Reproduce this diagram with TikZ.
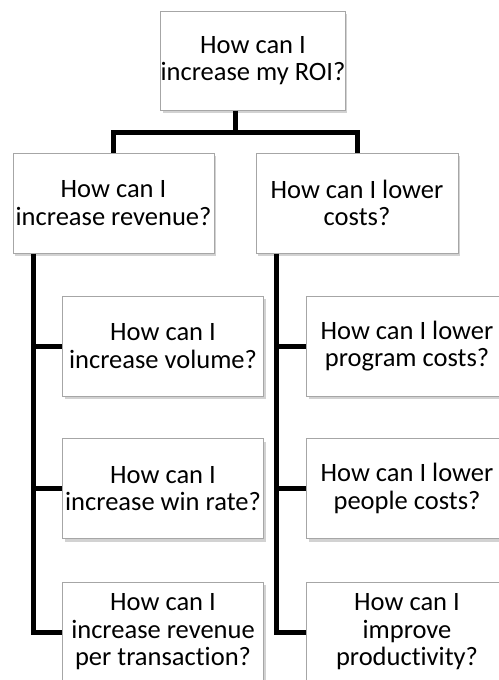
\documentclass[tikz,border=0pt]{standalone}
\usepackage{fontspec}
\setmainfont{Carlito}[Ligatures=CommonOff]
\usetikzlibrary{positioning,shadows}

\begin{document}
\begin{tikzpicture}[x=1pt,y=-1pt,
  qbox/.style={draw=gray!70,line width=1pt,fill=white,
    minimum width=201pt,minimum height=100pt,inner sep=0pt,
    align=center,font=\fontsize{26.5}{27.5}\selectfont,
    drop shadow={shadow xshift=2pt,shadow yshift=-3pt,fill=gray!70,opacity=0.5}},
  link/.style={line width=5pt,black}]
\useasboundingbox (0,0) rectangle (498,680);
% top question
\node[qbox,minimum width=166pt,minimum height=99pt] (roi) at (253,60.5) {How can I\\increase my ROI?};
% second level
\node[qbox] (rev) at (113.5,203) {How can I\\increase revenue?};
\node[qbox,minimum width=202pt] (cost) at (357,203) {How can I lower\\costs?};
% revenue branch
\node[qbox] (vol) at (163,346) {How can I\\increase volume?};
\node[qbox] (win) at (163,488.5) {How can I\\increase win rate?};
\node[qbox] (trans) at (163,632) {How can I\\increase revenue\\per transaction?};
% cost branch
\node[qbox] (prog) at (407,346) {How can I lower\\program costs?};
\node[qbox] (people) at (407,488.5) {How can I lower\\people costs?};
\node[qbox] (prod) at (407,632) {How can I\\improve\\productivity?};
% junctions
\coordinate (split) at (235,132);
\coordinate (spineL) at (33,253);
\coordinate (spineR) at (276,253);
% connectors
\draw[link] (roi.south -| split) -- (split);
\draw[link] (rev.north) |- (split) -| (cost.north);
\draw[link] (rev.south -| spineL) |- (trans.west);
\draw[link] (spineL |- vol.west) -- (vol.west);
\draw[link] (spineL |- win.west) -- (win.west);
\draw[link] (cost.south -| spineR) |- (prod.west);
\draw[link] (spineR |- prog.west) -- (prog.west);
\draw[link] (spineR |- people.west) -- (people.west);
\end{tikzpicture}
\end{document}
